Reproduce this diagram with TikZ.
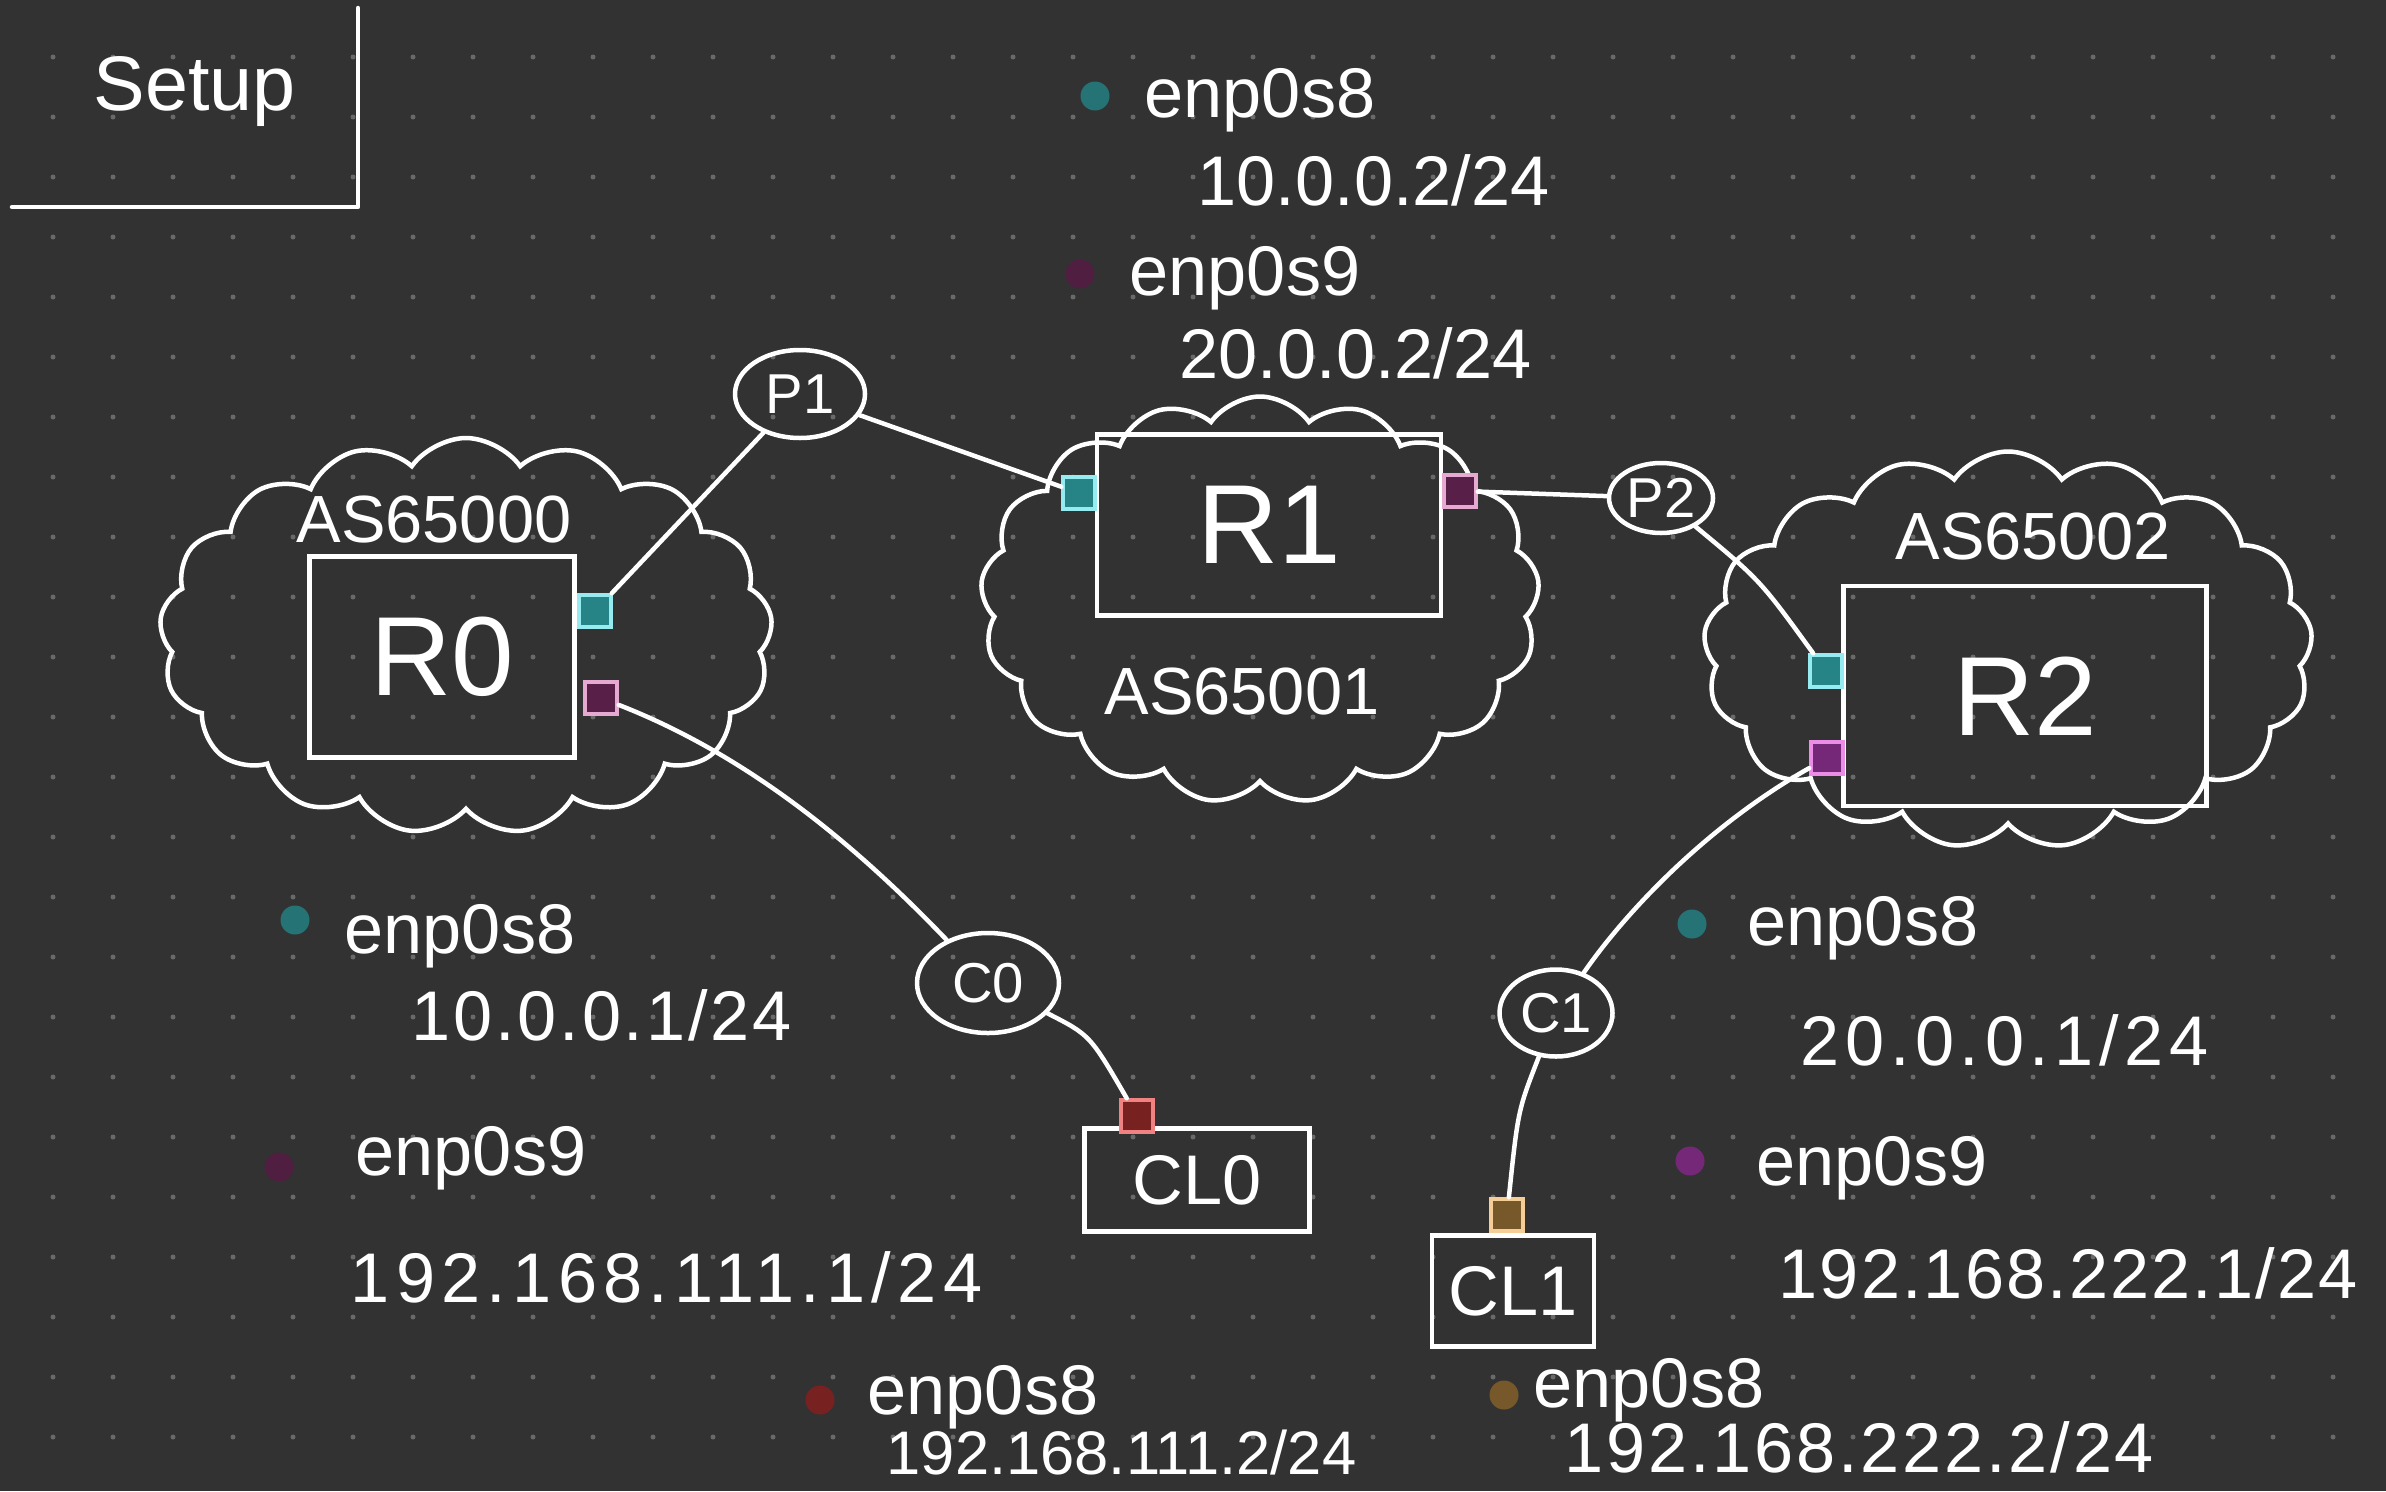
\documentclass[tikz,border=0pt]{standalone}
\usepackage{fontspec}
\setmainfont{Liberation Sans}
\usepackage{xcolor}
\usepackage{tikz}
\usetikzlibrary{calc,shapes.geometric,shapes.symbols}

\definecolor{bgdark}{RGB}{50,50,50}
\definecolor{griddot}{RGB}{105,105,105}
\definecolor{tealdot}{RGB}{38,115,118}
\definecolor{tealport}{RGB}{38,132,135}
\definecolor{tealglow}{RGB}{150,235,240}
\definecolor{plumdot}{RGB}{80,30,65}
\definecolor{plumport}{RGB}{88,32,72}
\definecolor{plumglow}{RGB}{230,170,210}
\definecolor{violetdot}{RGB}{118,40,120}
\definecolor{violetglow}{RGB}{235,140,230}
\definecolor{reddot}{RGB}{120,33,33}
\definecolor{redglow}{RGB}{240,130,130}
\definecolor{browndot}{RGB}{118,88,42}
\definecolor{brownglow}{RGB}{245,205,150}

\begin{document}
\begin{tikzpicture}[x=0.1mm, y=-0.1mm,
  pen/.style={draw=white, line width=0.45mm},
  router/.style={pen, rectangle, inner sep=0, text=white, font=\fontsize{32}{36}\selectfont},
  host/.style={pen, rectangle, inner sep=0, text=white, font=\fontsize{20}{24}\selectfont},
  ascloud/.style={pen, cloud, cloud puffs=17, cloud puff arc=110, inner sep=0},
  peer/.style={pen, ellipse, inner sep=0, text=white, font=\fontsize{16}{18}\selectfont},
  port/.style={rectangle, inner sep=0, minimum size=3.2mm, line width=0.35mm},
  ifdot/.style={circle, inner sep=0, minimum size=2.9mm},
  iflabel/.style={text=white, inner sep=0, anchor=base west, font=\fontsize{20}{24}\selectfont},
  spaced/.style={font=\fontsize{20}{24}\selectfont\addfontfeature{LetterSpace=#1}},
  aslabel/.style={text=white, inner sep=0, font=\fontsize{19}{22}\selectfont},
  link/.style={white, line width=0.45mm, line cap=round}
]

% ---------------- 1. BACKGROUND AND DOT GRID ----------------
\fill[bgdark] (0,0) rectangle (2386,1491);
\useasboundingbox (0,0) rectangle (2386,1491);
\foreach \i in {0,...,38}
  \foreach \j in {0,...,23}
    \fill[griddot] ({53+60*\i},{57+60*\j}) circle (0.25mm);

% ---------------- 2. TITLE ----------------
\node[iflabel, font=\fontsize{22}{26}\selectfont] (title) at (93,110) {Setup};
\coordinate (frameTop) at (358,8);
\coordinate (frameCorner) at (358,207);
\coordinate (frameLeft) at (12,207);
\draw[link, line join=round] (frameTop) -- (frameCorner) -- (frameLeft);

% ---------------- 3. AUTONOMOUS SYSTEMS ----------------
\node[ascloud, minimum width=61.3mm, minimum height=39.6mm] (as0) at (466,636) {};
\node[ascloud, minimum width=55.9mm, minimum height=40.7mm] (as1) at (1260,600) {};
\node[ascloud, minimum width=60.9mm, minimum height=39.7mm] (as2) at (2008,650) {};

\node[aslabel] (as0name) at (434,520) {AS65000};
\node[aslabel] (as1name) at (1242,692) {AS65001};
\node[aslabel] (as2name) at (2033,537) {AS65002};

% ---------------- 4. ROUTERS AND CLIENTS ----------------
\node[router, minimum width=26.5mm, minimum height=20.1mm] (r0) at (442,657) {R0};
\node[router, minimum width=34.4mm, minimum height=18.1mm] (r1) at (1269,525) {R1};
\node[router, minimum width=36.3mm, minimum height=22mm] (r2) at (2025,696) {R2};
\node[host, minimum width=22.5mm, minimum height=10.3mm] (cl0) at (1197,1180) {CL0};
\node[host, minimum width=16.2mm, minimum height=11.1mm] (cl1) at (1513,1291) {CL1};

% ---------------- 5. LINKS ----------------
\node[peer, minimum width=13mm, minimum height=8.8mm] (p1) at (800,394) {P1};
\node[peer, minimum width=10.4mm, minimum height=7mm] (p2) at (1661,498) {P2};
\node[peer, minimum width=14.2mm, minimum height=10mm] (c0) at (988,983) {C0};
\node[peer, minimum width=11.3mm, minimum height=8.7mm] (c1) at (1556,1013) {C1};

% Interfaces
\node[port, fill=tealport, draw=tealglow] (r0a) at (595,611) {};
\node[port, fill=plumport, draw=plumglow] (r0b) at (601,698) {};
\node[port, fill=tealport, draw=tealglow] (r1a) at (1079,493) {};
\node[port, fill=plumport, draw=plumglow] (r1b) at (1460,491) {};
\node[port, fill=tealport, draw=tealglow] (r2a) at (1826,671) {};
\node[port, fill=violetdot, draw=violetglow] (r2b) at (1827,758) {};
\node[port, fill=reddot, draw=redglow] (cl0p) at (1137,1116) {};
\node[port, fill=browndot, draw=brownglow] (cl1p) at (1507,1215) {};

\draw[link] (r0a) -- (p1);
\draw[link] (p1) -- (r1a);
\draw[link] (r1b) -- (p2);
\draw[link] (p2) .. controls (1760,580) .. (r2a);
\draw[link] (r0b) .. controls (760,760) and (870,860) .. (c0);
\draw[link] (c0) .. controls (1090,1035) .. (cl0p);
\draw[link] (r2b) .. controls (1700,830) and (1620,920) .. (c1);
\draw[link] (c1) .. controls (1518,1110) .. (cl1p);

% ---------------- 6. ADDRESSES ----------------
% R1
\node[ifdot, fill=tealdot] (r1dot8) at (1095,96) {};
\node[iflabel] (r1if8) at (1144,117) {enp0s8};
\node[iflabel] (r1ip8) at (1197,205) {10.0.0.2/24};
\node[ifdot, fill=plumdot] (r1dot9) at (1080,274) {};
\node[iflabel] (r1if9) at (1129,295) {enp0s9};
\node[iflabel] (r1ip9) at (1179,378) {20.0.0.2/24};

% R0
\node[ifdot, fill=tealdot] (r0dot8) at (295,920) {};
\node[iflabel] (r0if8) at (344,953) {enp0s8};
\node[iflabel, spaced=4] (r0ip8) at (411,1040) {10.0.0.1/24};
\node[ifdot, fill=plumdot] (r0dot9) at (279,1167) {};
\node[iflabel] (r0if9) at (355,1175) {enp0s9};
\node[iflabel, spaced=9] (r0ip9) at (350,1302) {192.168.111.1/24};

% R2
\node[ifdot, fill=tealdot] (r2dot8) at (1692,924) {};
\node[iflabel] (r2if8) at (1747,945) {enp0s8};
\node[iflabel, spaced=8] (r2ip8) at (1800,1065) {20.0.0.1/24};
\node[ifdot, fill=violetdot] (r2dot9) at (1690,1161) {};
\node[iflabel] (r2if9) at (1756,1185) {enp0s9};
\node[iflabel, spaced=3] (r2ip9) at (1778,1298) {192.168.222.1/24};

% Clients
\node[ifdot, fill=reddot] (cl0dot) at (820,1400) {};
\node[iflabel] (cl0if) at (867,1414) {enp0s8};
\node[iflabel, font=\fontsize{17.5}{21}\selectfont] (cl0ip) at (886,1474) {192.168.111.2/24};
\node[ifdot, fill=browndot] (cl1dot) at (1504,1395) {};
\node[iflabel] (cl1if) at (1533,1407) {enp0s8};
\node[iflabel, spaced=4] (cl1ip) at (1564,1472) {192.168.222.2/24};

\end{tikzpicture}
\end{document}
